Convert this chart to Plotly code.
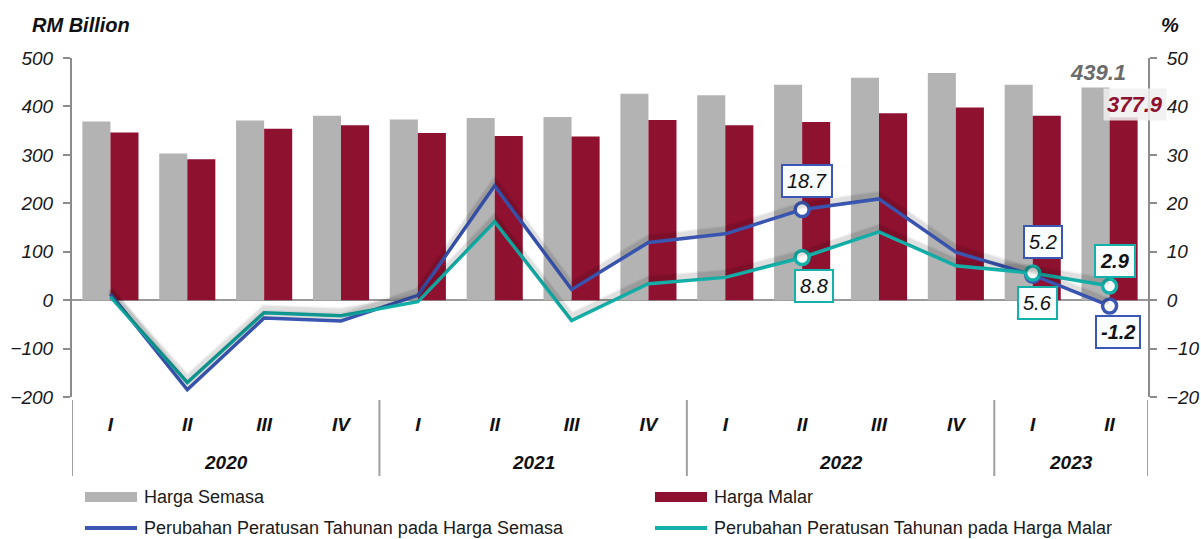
import plotly.graph_objects as go

# Quarterly GDP, RM billion, and year-on-year change, %
years = ["2020"] * 4 + ["2021"] * 4 + ["2022"] * 4 + ["2023"] * 2
quarters = ["I", "II", "III", "IV"] * 3 + ["I", "II"]

harga_semasa = [369, 303, 371, 381, 373, 376, 378, 426, 423, 445, 459, 469, 445, 439.1]
harga_malar = [346, 291, 354, 361, 345, 339, 338, 372, 361, 368, 386, 398, 381, 377.9]

ubah_semasa = [1.3, -18.5, -3.7, -4.3, 1.0, 23.6, 2.2, 11.9, 13.7, 18.7, 20.9, 9.9, 5.2, -1.2]
ubah_malar = [0.7, -17.0, -2.6, -3.2, -0.3, 16.2, -4.2, 3.4, 4.7, 8.8, 14.1, 7.1, 5.6, 2.9]

# points that carry a value box
marked = [9, 12, 13]

GREY = "#b3b3b3"
MAROON = "#8f1130"
BLUE = "#3b57b4"
TEAL = "#14b1aa"
AXIS = "#8c8c8c"
FONT = "Liberation Sans"

# plot area in pixels
L, R, T, B = 72, 1148, 58, 397
W, H = 1201, 539


def px(x):
    return (x - L) / (R - L)


def py(y):
    return (B - y) / (B - T)


n = len(quarters)
xs = list(range(n))

fig = go.Figure()
fig.add_trace(go.Bar(x=xs, y=harga_semasa, name="Harga Semasa",
                     marker=dict(color=GREY, line=dict(width=0))))
fig.add_trace(go.Bar(x=xs, y=harga_malar, name="Harga Malar",
                     marker=dict(color=MAROON, line=dict(width=0))))

# soft shadows under the growth lines (drawn on a slightly shifted copy of the % axis)
for series in (ubah_semasa, ubah_malar):
    for w, a in ((8, 0.05), (5, 0.08)):
        fig.add_trace(go.Scatter(x=xs, y=series, yaxis="y3", mode="lines",
                                 line=dict(color=f"rgba(0,0,0,{a})", width=w),
                                 hoverinfo="skip", showlegend=False))

fig.add_trace(go.Scatter(x=xs, y=ubah_semasa, yaxis="y2", mode="lines",
                         name="Perubahan Peratusan Tahunan pada Harga Semasa",
                         line=dict(color=BLUE, width=3.5)))
fig.add_trace(go.Scatter(x=xs, y=ubah_malar, yaxis="y2", mode="lines",
                         name="Perubahan Peratusan Tahunan pada Harga Malar",
                         line=dict(color=TEAL, width=3.5)))

fig.add_trace(go.Scatter(x=marked, y=[ubah_semasa[i] for i in marked], yaxis="y2", mode="markers",
                         marker=dict(size=14, color="white", line=dict(color=BLUE, width=3.5)),
                         showlegend=False))
fig.add_trace(go.Scatter(x=marked, y=[ubah_malar[i] for i in marked], yaxis="y2", mode="markers",
                         marker=dict(size=14, color="white", line=dict(color=TEAL, width=3.5)),
                         showlegend=False))

tickfont = dict(family=FONT, size=19, color="#1a1a1a", style="italic")

fig.update_layout(
    width=W, height=H,
    margin=dict(l=L, r=W - R, t=T, b=H - B, pad=0, autoexpand=False),
    paper_bgcolor="white", plot_bgcolor="white",
    barmode="group", bargap=0.27, bargroupgap=0,
    showlegend=False,
    font=dict(family=FONT, color="#1a1a1a"),
    xaxis=dict(range=[-0.5, n - 0.5], tickmode="array", tickvals=xs, ticktext=quarters,
               showgrid=False, showline=False, zeroline=False, ticks="", automargin=False,
               tickfont=dict(family=FONT, size=19, color="#111", style="italic", weight="bold"),
               ticklabelstandoff=14),
    yaxis=dict(range=[-200, 500], dtick=100, showgrid=False, showline=True, automargin=False,
               linecolor=AXIS, linewidth=2, ticks="outside", ticklen=7, tickwidth=2,
               tickcolor=AXIS, tickfont=tickfont, zeroline=True, zerolinecolor="#999",
               zerolinewidth=2, ticklabelstandoff=6),
    yaxis2=dict(range=[-20, 50], dtick=10, overlaying="y", side="right", showgrid=False,
                automargin=False,
                showline=True, linecolor=AXIS, linewidth=2, ticks="outside", ticklen=7,
                tickwidth=2, tickcolor=AXIS, tickfont=tickfont, zeroline=False,
                ticklabelstandoff=6),
    yaxis3=dict(range=[-20.9, 49.1], overlaying="y", visible=False, automargin=False),
)

ann = []
shapes = []

# year labels and group dividers under the quarter labels
groups = []
for i, yr in enumerate(years):
    if not groups or groups[-1][0] != yr:
        groups.append([yr, i, i])
    else:
        groups[-1][2] = i
for yr, i0, i1 in groups:
    ann.append(dict(xref="x", yref="paper", x=(i0 + i1) / 2, y=py(462), yanchor="middle",
                    text=yr, showarrow=False,
                    font=dict(family=FONT, size=19, color="#111", style="italic", weight="bold")))
bounds = [groups[0][1] - 0.5] + [g[2] + 0.5 for g in groups]
for b in bounds:
    shapes.append(dict(type="line", xref="x", yref="paper", x0=b, x1=b, y0=py(400), y1=py(476),
                       line=dict(color="#a0a0a0", width=2)))

# axis titles
ann.append(dict(xref="paper", yref="paper", x=px(30), y=py(25), xanchor="left", yanchor="middle",
                text="RM Billion", showarrow=False,
                font=dict(family=FONT, size=20, color="#111", style="italic", weight="bold")))
ann.append(dict(xref="paper", yref="paper", x=px(1159), y=py(25), xanchor="left", yanchor="middle",
                text="%", showarrow=False,
                font=dict(family=FONT, size=20, color="#111", style="italic", weight="bold")))

# latest-quarter bar values
last = n - 1
ann.append(dict(xref="x", yref="y", x=last, y=harga_semasa[last], xshift=-12, yshift=15,
                text=f"{harga_semasa[last]:.1f}", showarrow=False,
                font=dict(family=FONT, size=22, color="#6b6b6b", style="italic", weight="bold")))
ann.append(dict(xref="x", yref="y", x=last, y=harga_malar[last], xshift=25, yshift=13,
                text=f"{harga_malar[last]:.1f}", showarrow=False, bgcolor="rgba(240,240,240,0.85)",
                borderpad=3,
                font=dict(family=FONT, size=22, color=MAROON, style="italic", weight="bold")))

# value boxes on the growth lines: (index, series, colour, dx, dy, bold)
boxes = [
    (9, ubah_semasa, BLUE, 5, 29, False),
    (9, ubah_malar, TEAL, 12, -28, False),
    (12, ubah_semasa, BLUE, 10, 33, False),
    (12, ubah_malar, TEAL, 5, -30, False),
    (13, ubah_malar, TEAL, 5, 25, True),
    (13, ubah_semasa, BLUE, 8, -26, True),
]
for i, series, col, dx, dy, bold in boxes:
    ann.append(dict(xref="x", yref="y2", x=i, y=series[i], xshift=dx, yshift=dy,
                    text=f"{series[i]:.1f}", showarrow=False,
                    bgcolor="#f8fcfd", bordercolor=col, borderwidth=2, borderpad=4,
                    font=dict(family=FONT, size=20, color="#111", style="italic",
                              weight="bold" if bold else "normal")))

# legend
legend_items = [
    ("rect", GREY, 85, 497, "Harga Semasa"),
    ("rect", MAROON, 655, 497, "Harga Malar"),
    ("line", BLUE, 85, 528, "Perubahan Peratusan Tahunan pada Harga Semasa"),
    ("line", TEAL, 655, 528, "Perubahan Peratusan Tahunan pada Harga Malar"),
]
for kind, col, x0, yc, label in legend_items:
    if kind == "rect":
        shapes.append(dict(type="rect", xref="paper", yref="paper",
                           x0=px(x0), x1=px(x0 + 52), y0=py(yc + 5), y1=py(yc - 5),
                           fillcolor=col, line=dict(width=0)))
    else:
        shapes.append(dict(type="line", xref="paper", yref="paper",
                           x0=px(x0), x1=px(x0 + 52), y0=py(yc), y1=py(yc),
                           line=dict(color=col, width=4)))
    ann.append(dict(xref="paper", yref="paper", x=px(x0 + 57), y=py(yc), xanchor="left",
                    yanchor="middle", text=label, showarrow=False,
                    font=dict(family=FONT, size=18, color="#1a1a1a")))

fig.update_layout(annotations=ann, shapes=shapes)

fig.write_html("out.html")
